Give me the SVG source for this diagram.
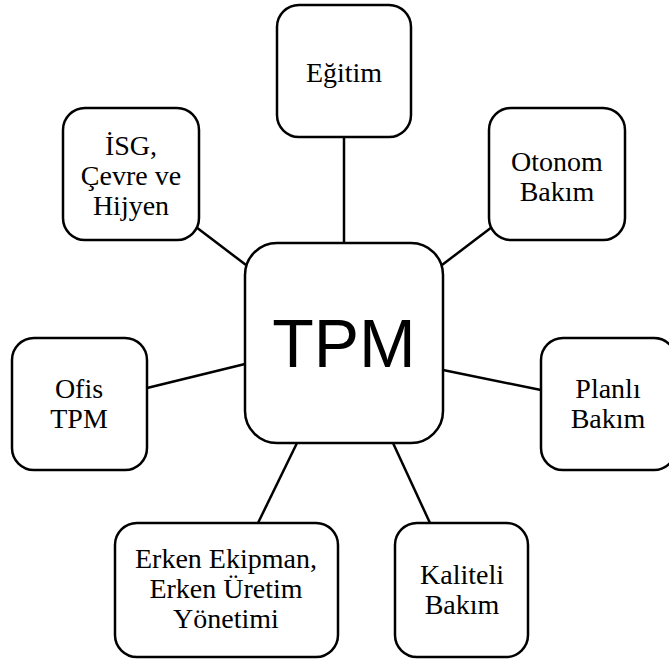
<svg xmlns="http://www.w3.org/2000/svg" width="669" height="661" viewBox="0 0 669 661">
<style>
.box{fill:#fff;stroke:#000;stroke-width:2.5}
.t{font-family:"Liberation Serif","Times New Roman",serif;font-size:28px;fill:#000;text-anchor:middle}
.c{stroke:#000;stroke-width:2.5;fill:none}
</style>
<rect width="669" height="661" fill="#fff"/>
<g id="connectors">
<line class="c" x1="196" y1="227" x2="246" y2="265"/>
<line class="c" x1="344" y1="137" x2="344" y2="243"/>
<line class="c" x1="492" y1="227" x2="442" y2="265"/>
<line class="c" x1="147" y1="388" x2="245" y2="364"/>
<line class="c" x1="443" y1="370" x2="541" y2="390"/>
<line class="c" x1="258" y1="523" x2="297" y2="443"/>
<line class="c" x1="393" y1="443" x2="430" y2="523"/>
</g>
<g id="tpm">
<rect class="box" x="245" y="243" width="198" height="200" rx="32"/>
<text x="344" y="367" style="font-family:'Liberation Sans',Arial,sans-serif;font-size:68px;text-anchor:middle">TPM</text>
</g>
<g id="egitim">
<rect class="box" x="277" y="5" width="134" height="132" rx="22"/>
<text class="t" x="344" y="82">Eğitim</text>
</g>
<g id="isg">
<rect class="box" x="63" y="108" width="136" height="132" rx="22"/>
<text class="t" x="131" y="155">İSG,</text>
<text class="t" x="131" y="185">Çevre ve</text>
<text class="t" x="131" y="215">Hijyen</text>
</g>
<g id="otonom">
<rect class="box" x="489" y="108" width="136" height="132" rx="22"/>
<text class="t" x="557" y="171">Otonom</text>
<text class="t" x="557" y="201">Bakım</text>
</g>
<g id="ofis">
<rect class="box" x="12" y="338" width="135" height="132" rx="22"/>
<text class="t" x="79" y="398">Ofis</text>
<text class="t" x="79" y="428">TPM</text>
</g>
<g id="planli">
<rect class="box" x="541" y="338" width="135" height="132" rx="22"/>
<text class="t" x="608" y="398">Planlı</text>
<text class="t" x="608" y="428">Bakım</text>
</g>
<g id="erken">
<rect class="box" x="115" y="523" width="223" height="134" rx="22"/>
<text class="t" x="226" y="568">Erken Ekipman,</text>
<text class="t" x="226" y="598">Erken Üretim</text>
<text class="t" x="226" y="628">Yönetimi</text>
</g>
<g id="kaliteli">
<rect class="box" x="395" y="523" width="133" height="134" rx="22"/>
<text class="t" x="462" y="584">Kaliteli</text>
<text class="t" x="462" y="614">Bakım</text>
</g>
</svg>
